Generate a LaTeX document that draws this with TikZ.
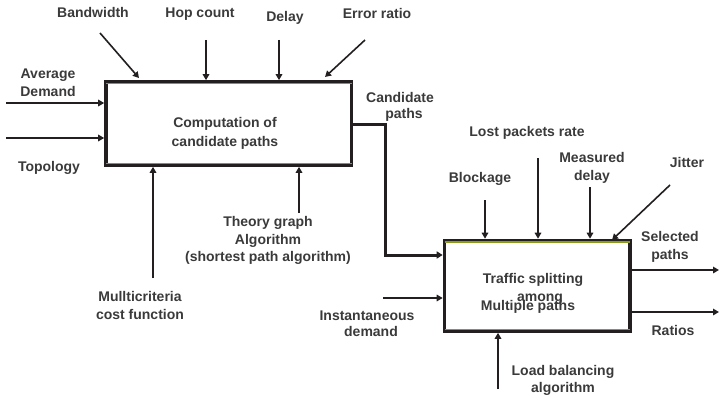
\documentclass[tikz,border=0pt]{standalone}
\usepackage{fontspec}
\setmainfont{Liberation Sans}
\usetikzlibrary{arrows.meta,calc}
\definecolor{ink}{HTML}{231F20}
\definecolor{txt}{HTML}{3A3A3A}
\definecolor{rimcol}{HTML}{8C9A1E}

\begin{document}
\begin{tikzpicture}[x=1pt,y=-1pt,
  lbl/.style={font=\bfseries\fontsize{14}{17.5}\selectfont, text=txt, align=center, inner sep=0pt, anchor=base},
  proc/.style={draw=ink, line width=3.6pt, fill=white, inner sep=0pt},
  arr/.style={draw=ink, line width=1.6pt, -{Triangle[length=6pt,width=6.5pt]}},
  flow/.style={draw=ink, line width=3pt, -{Triangle[length=6pt,width=7pt]}},
  rim/.style={draw=rimcol, line width=1.4pt}]
\useasboundingbox (0,0) rectangle (719,398);

% process boxes
\node[proc, minimum width=245.5pt, minimum height=83pt] (b1) at (228.75,123.5) {};
\node[proc, minimum width=185.5pt, minimum height=90.5pt] (b2) at (537.25,285.75) {};

% olive inner rims
\draw[rim] ($(b1.north west)+(1.8,3.2)$) -- ($(b1.north east)+(-1.8,3.2)$);
\draw[rim] ($(b1.south west)+(1.8,-3.2)$) -- ($(b1.south east)+(-1.8,-3.2)$);
\draw[rim] ($(b2.north west)+(1.8,3.2)$) -- ($(b2.north east)+(-1.8,3.2)$);
\draw[rim] ($(b2.south west)+(1.8,-3.2)$) -- ($(b2.south east)+(-1.8,-3.2)$);

% box texts (multi-line nodes sit on the baseline of their last line)
\node[lbl] (t1) at (225,146.5) {Computation of\\[1.5pt]candidate paths};
\node[lbl] (t2a) at (533,283.5) {Traffic splitting};
\node[lbl] (t2b) at (540,301.5) {among};
\node[lbl] (t2c) at (528,310.5) {Multiple paths};

% labels around box 1
\node[lbl] (bw) at (93,18) {Bandwidth};
\node[lbl] (hop) at (200,18) {Hop count};
\node[lbl] (dl) at (285,22) {Delay};
\node[lbl] (er) at (377,18.5) {Error ratio};
\node[lbl] (avg) at (48,96.5) {Average\\[0.5pt]Demand};
\node[lbl] (topo) at (49,171.5) {Topology};
\node[lbl] (cand) at (400,118.5) {Candidate\\[-1.5pt]\hspace*{8pt}paths};
\node[lbl] (mc) at (140,319.5) {Mullticriteria\\[0.5pt]cost function};
\node[lbl] (tg) at (268,261.5) {Theory graph\\Algorithm\\(shortest path algorithm)};

% labels around box 2
\node[lbl] (lost) at (527,136.5) {Lost packets rate};
\node[lbl] (blk) at (480,182.5) {Blockage};
\node[lbl] (md) at (592,180.5) {Measured\\[0.5pt]delay};
\node[lbl] (jit) at (687,167.5) {Jitter};
\node[lbl] (sel) at (670,259.5) {Selected\\[0.5pt]paths};
\node[lbl] (rat) at (673,335.5) {Ratios};
\node[lbl] (inst) at (367,336.5) {Instantaneous\\[-1.5pt]\hspace*{8pt}demand};
\node[lbl] (lb) at (563,392.5) {Load balancing\\algorithm};

% free ends of the connectors
\coordinate (bwS) at (100,33);
\coordinate (hopS) at (206,40);
\coordinate (dlS) at (279,40);
\coordinate (erS) at (365,40);
\coordinate (avgS) at (6,103);
\coordinate (topoS) at (6,138);
\coordinate (mcS) at (153,278);
\coordinate (tgS) at (299,213);
\coordinate (blkS) at (485,200);
\coordinate (lostS) at (538,158);
\coordinate (mdS) at (590,187);
\coordinate (jitS) at (670,185);
\coordinate (instS) at (383,298);
\coordinate (lbS) at (498,389);
\coordinate (selE) at (719,270);
\coordinate (ratE) at (719,312);
\coordinate (bend) at (385,125);

% inputs of box 1
\draw[arr] (bwS) -- (139,78);
\draw[arr] (hopS) -- (hopS |- b1.north);
\draw[arr] (dlS) -- (dlS |- b1.north);
\draw[arr] (erS) -- (325,77);
\draw[arr] (avgS) -- (avgS -| b1.west);
\draw[arr] (topoS) -- (topoS -| b1.west);
\draw[arr] (mcS) -- (mcS |- b1.south);
\draw[arr] (tgS) -- (tgS |- b1.south);

% candidate paths from box 1 to box 2
\draw[flow] (bend -| b1.east) -- (bend) -- (bend |- 0,255) -- (b2.west |- 0,255);

% inputs of box 2
\draw[arr] (blkS) -- (blkS |- b2.north);
\draw[arr] (lostS) -- (lostS |- b2.north);
\draw[arr] (mdS) -- (mdS |- b2.north);
\draw[arr] (jitS) -- (612,240);
\draw[arr] (instS) -- (instS -| b2.west);
\draw[arr] (lbS) -- (lbS |- b2.south);

% outputs of box 2
\draw[arr] (selE -| b2.east) -- (selE);
\draw[arr] (ratE -| b2.east) -- (ratE);
\end{tikzpicture}
\end{document}
